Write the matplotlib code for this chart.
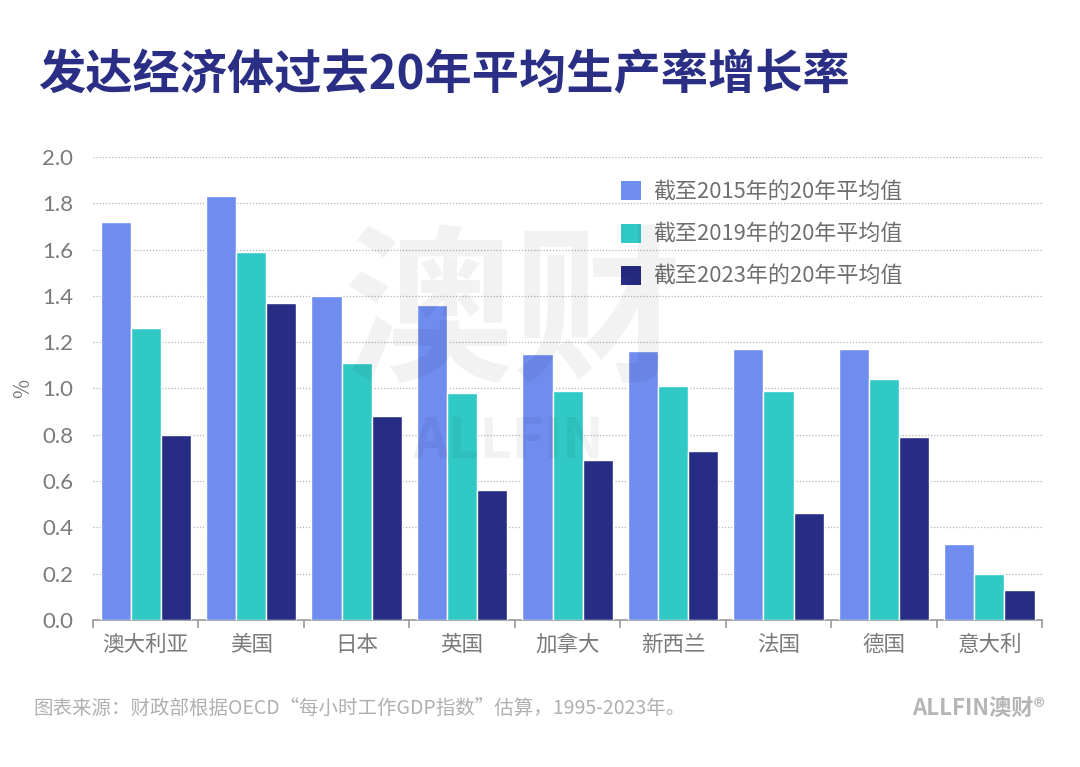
import matplotlib
matplotlib.use("Agg")
import matplotlib.pyplot as plt
import numpy as np
from matplotlib.patches import Patch

plt.rcParams['font.family'] = ['Noto Sans CJK SC', 'DejaVu Sans']

# ---- data ----
countries = ["澳大利亚", "美国", "日本", "英国", "加拿大", "新西兰", "法国", "德国", "意大利"]
avg_2015 = [1.72, 1.83, 1.40, 1.36, 1.15, 1.16, 1.17, 1.17, 0.33]
avg_2019 = [1.26, 1.59, 1.11, 0.98, 0.99, 1.01, 0.99, 1.04, 0.20]
avg_2023 = [0.80, 1.37, 0.88, 0.56, 0.69, 0.73, 0.46, 0.79, 0.13]
series_labels = ["截至2015年的20年平均值", "截至2019年的20年平均值", "截至2023年的20年平均值"]
y_ticks = [0.0, 0.2, 0.4, 0.6, 0.8, 1.0, 1.2, 1.4, 1.6, 1.8, 2.0]

COLORS = ["#6f8cef", "#31c9c6", "#272c84"]
TITLE_C = "#2a2f85"
GREY = "#7a7a7a"

fig = plt.figure(figsize=(10.8, 7.67), dpi=100)
fig.patch.set_facecolor("white")
ax = fig.add_axes([0.086, 0.1917, 0.879, 0.6036])

x = np.arange(len(countries))
w = 0.285
for i, vals in enumerate([avg_2015, avg_2019, avg_2023]):
    ax.bar(x + (i - 1) * w, vals, width=w, color=COLORS[i], edgecolor="white",
           linewidth=1.0, zorder=3, label=series_labels[i])

ax.set_xlim(-0.5, len(countries) - 0.5)
ax.set_ylim(0, 2.0)
ax.set_yticks(y_ticks)
ax.set_yticklabels(["%.1f" % t for t in y_ticks], fontsize=16, color=GREY,
                   family=["Lato", "DejaVu Sans"])
ax.tick_params(axis="y", length=0, pad=14)
ax.grid(axis="y", color="#b5b5b5", linestyle=(0, (1, 1.5)), linewidth=0.9, zorder=0)
ax.set_axisbelow(True)

# category labels centred, tick marks at category boundaries
ax.set_xticks(x)
ax.set_xticklabels(countries, fontsize=15.5, color=GREY)
ax.tick_params(axis="x", length=0, pad=10)
ax.set_xticks(np.arange(len(countries) + 1) - 0.5, minor=True)
ax.tick_params(axis="x", which="minor", length=6, color="#999999", width=1.2)

for s in ["top", "right", "left"]:
    ax.spines[s].set_visible(False)
ax.spines["bottom"].set_color("#999999")
ax.spines["bottom"].set_linewidth(1.2)

ax.set_ylabel("%", fontsize=15, color=GREY, labelpad=6)

handles = [Patch(facecolor=c, label=l) for c, l in zip(COLORS, series_labels)]
ax.legend(handles=handles, loc="upper left", bbox_to_anchor=(0.535, 0.99),
          frameon=False, fontsize=15.8, labelcolor="#6e6e6e",
          handlelength=0.95, handleheight=0.95, handletextpad=0.55,
          labelspacing=0.92)

# faint watermark
fig.text(0.475, 0.585, "澳财", fontsize=122, fontweight="bold", color="#000000",
         alpha=0.05, ha="center", va="center", zorder=10)
fig.text(0.47, 0.425, "ALLFIN", fontsize=40, fontweight="bold", color="#000000",
         alpha=0.05, ha="center", va="center", zorder=10)

fig.text(0.035, 0.902, "发达经济体过去20年平均生产率增长率", fontsize=34,
         fontweight="bold", color=TITLE_C, ha="left", va="center")
fig.text(0.031, 0.076, "图表来源：财政部根据OECD“每小时工作GDP指数”估算，1995-2023年。",
         fontsize=14, color="#b0b0b0", ha="left", va="center")
fig.text(0.968, 0.076, "ALLFIN澳财®", fontsize=16, fontweight="bold",
         color="#b5b5b5", ha="right", va="center")

fig.savefig("out.png", dpi=100, facecolor="white")
